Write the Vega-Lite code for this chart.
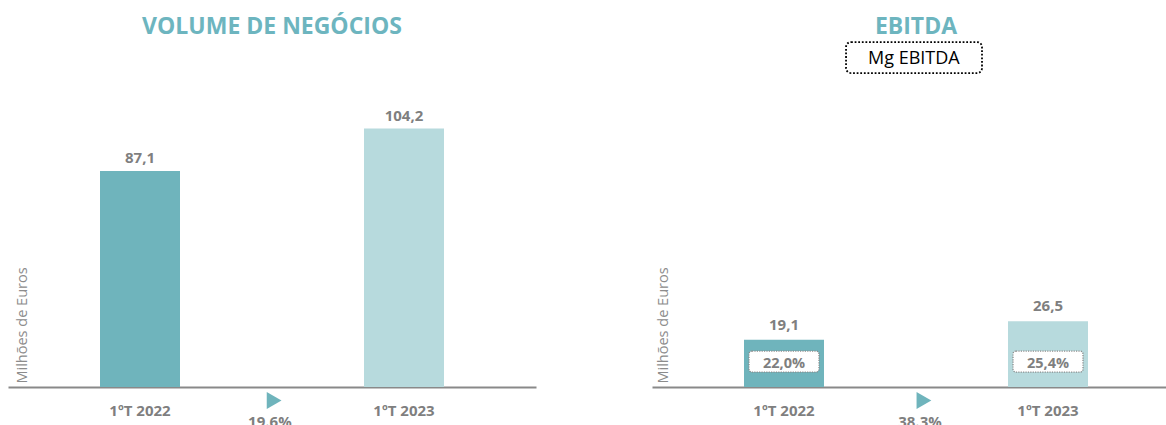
{
  "$schema": "https://vega.github.io/schema/vega-lite/v6.json",
  "padding": {"left": 8, "top": 15, "right": 0, "bottom": 0},
  "background": "white",
  "config": {"view": {"stroke": null}, "font": "Open Sans"},
  "spacing": 116,
  "hconcat": [
    {
      "width": 528,
      "height": 372,
      "resolve": {"scale": {"x": "independent"}},
      "layer": [
        {
          "data": {"values": [
            {"periodo": "1ºT 2022", "valor": 87.1, "rotulo": "87,1"},
            {"periodo": "1ºT 2023", "valor": 104.2, "rotulo": "104,2"}
          ]},
          "encoding": {
            "x": {"field": "periodo", "type": "nominal", "sort": null,
              "scale": {"paddingInner": 0.697, "paddingOuter": 0.3485},
              "axis": {"title": null, "domainColor": "#898989", "domainWidth": 2, "ticks": false, "tickSize": 0, "labelAngle": 0, "labelFont": "Open Sans", "labelFontSize": 15, "labelFontWeight": "bold", "labelColor": "#7F7F7F", "labelPadding": 28, "labelBaseline": "alphabetic"}},
            "y": {"field": "valor", "type": "quantitative", "scale": {"domain": [0, 150], "nice": false},
              "axis": {"title": "Milhões de Euros", "labels": false, "ticks": false, "domain": false, "grid": false, "titleFont": "Open Sans", "titleFontSize": 14.5, "titleFontWeight": "normal", "titleColor": "#8C8C8C", "titleAngle": -90, "titleAlign": "left", "titleBaseline": "alphabetic", "titleX": 18, "titleY": 368}}
          },
          "layer": [
            {"mark": {"type": "bar", "width": 80},
             "encoding": {"color": {"field": "periodo", "type": "nominal", "sort": null, "scale": {"range": ["#6FB4BC", "#B7DADD"]}, "legend": null}}},
            {"mark": {"type": "text", "baseline": "alphabetic", "dy": -8, "font": "Open Sans", "fontSize": 15, "fontWeight": "bold", "color": "#7F7F7F"},
             "encoding": {"text": {"field": "rotulo"}}}
          ]
        },
        {
          "data": {"values": [{"titulo": "VOLUME DE NEGÓCIOS"}]},
          "mark": {"type": "text", "baseline": "alphabetic", "font": "Open Sans", "fontSize": 23, "fontWeight": "bold", "color": "#6DB5BF"},
          "encoding": {
            "x": {"datum": 1, "type": "quantitative", "scale": {"domain": [0, 2]}, "axis": null},
            "y": {"datum": 142.3, "type": "quantitative", "scale": {"domain": [0, 150], "nice": false}},
            "text": {"field": "titulo"}
          }
        },
        {
          "data": {"values": [{"variacao": "19.6%"}]},
          "mark": {"type": "point", "shape": "triangle-right", "filled": true, "size": 290, "opacity": 1, "color": "#6FB4BC", "strokeWidth": 0, "yOffset": 13.5},
          "encoding": {
            "x": {"datum": 1.008, "type": "quantitative", "scale": {"domain": [0, 2]}, "axis": null},
            "y": {"datum": 0, "type": "quantitative", "scale": {"domain": [0, 150], "nice": false}}
          }
        },
        {
          "data": {"values": [{"variacao": "19.6%"}]},
          "mark": {"type": "text", "baseline": "alphabetic", "dy": 40, "font": "Open Sans", "fontSize": 15, "fontWeight": "bold", "color": "#7F7F7F"},
          "encoding": {
            "x": {"datum": 0.992, "type": "quantitative", "scale": {"domain": [0, 2]}, "axis": null},
            "y": {"datum": 0, "type": "quantitative", "scale": {"domain": [0, 150], "nice": false}},
            "text": {"field": "variacao"}
          }
        }
      ]
    },
    {
      "width": 528,
      "height": 372,
      "resolve": {"scale": {"x": "independent"}},
      "layer": [
        {
          "data": {"values": [
            {"periodo": "1ºT 2022", "valor": 19.1, "rotulo": "19,1", "margem": "22,0%"},
            {"periodo": "1ºT 2023", "valor": 26.5, "rotulo": "26,5", "margem": "25,4%"}
          ]},
          "encoding": {
            "x": {"field": "periodo", "type": "nominal", "sort": null,
              "scale": {"paddingInner": 0.697, "paddingOuter": 0.3485},
              "axis": {"title": null, "domainColor": "#898989", "domainWidth": 2, "ticks": false, "tickSize": 0, "labelAngle": 0, "labelFont": "Open Sans", "labelFontSize": 15, "labelFontWeight": "bold", "labelColor": "#7F7F7F", "labelPadding": 28, "labelBaseline": "alphabetic"}},
            "y": {"field": "valor", "type": "quantitative", "scale": {"domain": [0, 150], "nice": false},
              "axis": {"title": "Milhões de Euros", "labels": false, "ticks": false, "domain": false, "grid": false, "titleFont": "Open Sans", "titleFontSize": 14.5, "titleFontWeight": "normal", "titleColor": "#8C8C8C", "titleAngle": -90, "titleAlign": "left", "titleBaseline": "alphabetic", "titleX": 15, "titleY": 368}}
          },
          "layer": [
            {"mark": {"type": "bar", "width": 80},
             "encoding": {"color": {"field": "periodo", "type": "nominal", "sort": null, "scale": {"range": ["#6FB4BC", "#B7DADD"]}, "legend": null}}},
            {"mark": {"type": "text", "baseline": "alphabetic", "dy": -10, "font": "Open Sans", "fontSize": 15, "fontWeight": "bold", "color": "#7F7F7F"},
             "encoding": {"text": {"field": "rotulo"}}},
            {"mark": {"type": "bar", "width": 70, "fill": "white", "stroke": "#8C8C8C", "strokeWidth": 1.3, "strokeDash": [1.2, 1.2], "cornerRadius": 3},
             "encoding": {"y": {"datum": 6.0, "type": "quantitative", "scale": {"domain": [0, 150], "nice": false}}, "y2": {"datum": 14.5}}},
            {"mark": {"type": "text", "baseline": "alphabetic", "font": "Open Sans", "fontSize": 14.5, "fontWeight": "bold", "color": "#7F7F7F"},
             "encoding": {"y": {"datum": 7.5, "type": "quantitative", "scale": {"domain": [0, 150], "nice": false}}, "text": {"field": "margem"}}}
          ]
        },
        {
          "data": {"values": [{"titulo": "EBITDA"}]},
          "mark": {"type": "text", "baseline": "alphabetic", "font": "Open Sans", "fontSize": 23, "fontWeight": "bold", "color": "#6DB5BF"},
          "encoding": {
            "x": {"datum": 1, "type": "quantitative", "scale": {"domain": [0, 2]}, "axis": null},
            "y": {"datum": 142.3, "type": "quantitative", "scale": {"domain": [0, 150], "nice": false}},
            "text": {"field": "titulo"}
          }
        },
        {
          "data": {"values": [{"legenda": "Mg EBITDA"}]},
          "mark": {"type": "rect", "fill": "white", "stroke": "black", "strokeWidth": 1.8, "strokeDash": [1.8, 1.8], "cornerRadius": 5},
          "encoding": {
            "x": {"datum": 0.735, "type": "quantitative", "scale": {"domain": [0, 2]}, "axis": null},
            "x2": {"datum": 1.25},
            "y": {"datum": 126.6, "type": "quantitative", "scale": {"domain": [0, 150], "nice": false}},
            "y2": {"datum": 139.1}
          }
        },
        {
          "data": {"values": [{"legenda": "Mg EBITDA"}]},
          "mark": {"type": "text", "baseline": "alphabetic", "font": "Open Sans", "fontSize": 18, "fontWeight": "normal", "color": "#000000"},
          "encoding": {
            "x": {"datum": 0.992, "type": "quantitative", "scale": {"domain": [0, 2]}, "axis": null},
            "y": {"datum": 130.1, "type": "quantitative", "scale": {"domain": [0, 150], "nice": false}},
            "text": {"field": "legenda"}
          }
        },
        {
          "data": {"values": [{"variacao": "38.3%"}]},
          "mark": {"type": "point", "shape": "triangle-right", "filled": true, "size": 290, "opacity": 1, "color": "#6FB4BC", "strokeWidth": 0, "yOffset": 13.5},
          "encoding": {
            "x": {"datum": 1.03, "type": "quantitative", "scale": {"domain": [0, 2]}, "axis": null},
            "y": {"datum": 0, "type": "quantitative", "scale": {"domain": [0, 150], "nice": false}}
          }
        },
        {
          "data": {"values": [{"variacao": "38.3%"}]},
          "mark": {"type": "text", "baseline": "alphabetic", "dy": 40, "font": "Open Sans", "fontSize": 15, "fontWeight": "bold", "color": "#7F7F7F"},
          "encoding": {
            "x": {"datum": 1.015, "type": "quantitative", "scale": {"domain": [0, 2]}, "axis": null},
            "y": {"datum": 0, "type": "quantitative", "scale": {"domain": [0, 150], "nice": false}},
            "text": {"field": "variacao"}
          }
        }
      ]
    }
  ]
}
